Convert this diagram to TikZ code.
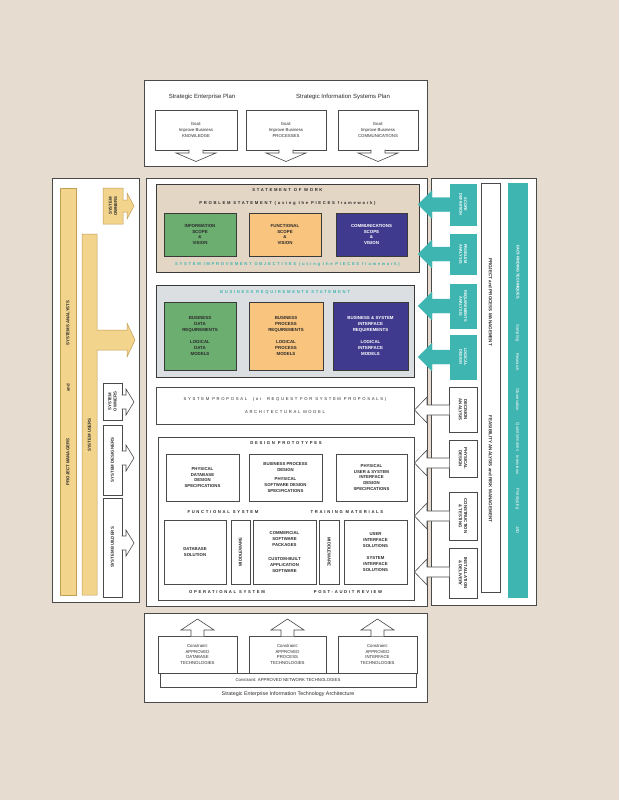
\documentclass[tikz,border=0pt]{standalone}
\usepackage{fontspec}
\setmainfont{Liberation Sans}
\newfontfamily\spcfont[LetterSpace=40]{Liberation Sans}
\definecolor{bgc}{HTML}{E7DCD0}
\definecolor{lc}{HTML}{4A4A4A}
\definecolor{dk}{HTML}{3A3A3A}
\definecolor{yel}{HTML}{F2D48C}
\definecolor{yelb}{HTML}{BF9E55}
\definecolor{grn}{HTML}{6CAD70}
\definecolor{org}{HTML}{F9C47E}
\definecolor{pur}{HTML}{3F3A8E}
\definecolor{teal}{HTML}{3FB5B2}
\definecolor{sowc}{HTML}{E4D6C4}
\definecolor{brsc}{HTML}{DCDFE1}
\definecolor{txt}{HTML}{2A2A2A}
\newcommand\harrow[8]{%
 \fill[#1] (#3,#6-#7) -- (#4,#6-#7) -- (#4,#6-#8) -- (#5,#6) -- (#4,#6+#8) -- (#4,#6+#7) -- (#3,#6+#7) -- cycle;
 \draw[#2] (#3,#6-#7) -- (#4,#6-#7) -- (#4,#6-#8) -- (#5,#6) -- (#4,#6+#8) -- (#4,#6+#7) -- (#3,#6+#7);}
\newcommand\varrow[8]{%
 \fill[#1] (#3-#7,#4) -- (#3-#7,#5) -- (#3-#8,#5) -- (#3,#6) -- (#3+#8,#5) -- (#3+#7,#5) -- (#3+#7,#4) -- cycle;
 \draw[#2] (#3-#7,#4) -- (#3-#7,#5) -- (#3-#8,#5) -- (#3,#6) -- (#3+#8,#5) -- (#3+#7,#5) -- (#3+#7,#4);}
\tikzset{
 frame/.style={draw=lc, line width=0.6pt, fill=white, inner sep=0},
 ttl/.style={font=\fontsize{6}{7}\selectfont, text=txt, inner sep=0},
 goal/.style={frame, align=center, font=\fontsize{4.3}{5.8}\selectfont, text=txt},
 cbox/.style={draw=dk, line width=0.6pt, inner sep=0, align=center, font=\bfseries\fontsize{4.4}{5.8}\selectfont, text=txt},
 dbox/.style={frame, align=center, font=\bfseries\fontsize{4.3}{5.9}\selectfont, text=txt},
 spc/.style={font=\spcfont\bfseries\fontsize{4.2}{5}\selectfont, text=txt, inner sep=0},
 vlab/.style={font=\bfseries\fontsize{4.3}{5.2}\selectfont, text=txt, align=center, inner sep=0},
 wlab/.style={font=\bfseries\fontsize{3.9}{4.8}\selectfont, text=white, align=center, inner sep=0},
 yfill/.style={fill=yel, draw=yelb, line width=0.5pt},
 tealbox/.style={fill=teal, draw=teal, inner sep=0}
}
\begin{document}
\begin{tikzpicture}[x=1pt,y=-1pt]
\fill[bgc] (0,0) rectangle (619,800);
\useasboundingbox (0,0) rectangle (619,800);

% ---------- top ----------
\node[frame, minimum width=283, minimum height=86] (topbox) at (285.5,123) {};
\node[ttl] (sep) at (202,97) {Strategic Enterprise Plan};
\node[ttl] (sisp) at (343,97) {Strategic Information Systems Plan};
\node[goal, minimum width=82, minimum height=40] (g1) at (196,130) {Goal:\\Improve Business\\KNOWLEDGE};
\node[goal, minimum width=80, minimum height=40] (g2) at (286,130) {Goal:\\Improve Business\\PROCESSES};
\node[goal, minimum width=80, minimum height=40] (g3) at (378,130) {Goal:\\Improve Business\\COMMUNICATIONS};
\varrow{white}{lc, line width=0.6pt}{196}{149.6}{153}{161.5}{7}{20}
\varrow{white}{lc, line width=0.6pt}{286}{149.6}{153}{161.5}{7}{20}
\varrow{white}{lc, line width=0.6pt}{378}{149.6}{153}{161.5}{7}{20}

% ---------- left column ----------
\node[frame, minimum width=87, minimum height=424] (leftbox) at (95.5,390) {};
\node[yfill, minimum width=16, minimum height=407, inner sep=0] (bar1) at (68,391.5) {};
\node[vlab, rotate=90] (sa) at (68,323) {SYSTEMS ANALYSTS};
\node[vlab, rotate=90] (and1) at (68,388) {and};
\node[vlab, rotate=90] (pm) at (68,462) {PROJECT MANAGERS};
\filldraw[yfill] (82,234) -- (97,234) -- (97,330) -- (127,330) -- (127,323) -- (135,340) -- (127,357) -- (127,350) -- (97,350) -- (97,595) -- (82,595) -- cycle;
\node[vlab, rotate=90] (su) at (89.5,435) {SYSTEM USERS};
\filldraw[yfill] (103,188) -- (123,188) -- (123,200) -- (127,200) -- (127,193) -- (134,206) -- (127,219) -- (127,212) -- (123,212) -- (123,224) -- (103,224) -- cycle;
\node[vlab, rotate=90] (so1) at (113,206) {SYSTEM\\OWNERS};

\node[frame, minimum width=19, minimum height=37] (so2) at (112.5,401.5) {};
\node[vlab, rotate=90] (so2t) at (112.5,401.5) {SYSTEM\\OWNERS};
\harrow{white}{lc, line width=0.6pt}{121.6}{126}{134}{402}{7}{13}
\node[frame, minimum width=19, minimum height=70] (sd) at (112.5,460) {};
\node[vlab, rotate=90] (sdt) at (112.5,460) {SYSTEM DESIGNERS};
\harrow{white}{lc, line width=0.6pt}{121.6}{126}{134}{458}{7}{13}
\node[frame, minimum width=19, minimum height=99] (sb) at (112.5,547.5) {};
\node[vlab, rotate=90] (sbt) at (112.5,547.5) {SYSTEM BUILDERS};
\harrow{white}{lc, line width=0.6pt}{121.6}{126}{134}{543}{7}{13}

% ---------- right column frame ----------
\node[frame, minimum width=105, minimum height=427] (rightbox) at (483.5,391.5) {};

% ---------- center ----------
\node[frame, minimum width=281, minimum height=428] (main) at (286.5,392) {};

\node[cbox, fill=sowc, minimum width=263, minimum height=88] (sow) at (287.5,228) {};
\node[spc] (sowt) at (287.5,190) {STATEMENT OF WORK};
\node[spc] (pst) at (287.5,203) {PROBLEM STATEMENT (using the PIECES framework)};
\node[cbox, fill=grn, minimum width=72, minimum height=43] (info) at (200,234.5) {INFORMATION\\SCOPE\\\&\\VISION};
\node[cbox, fill=org, minimum width=72, minimum height=43] (func) at (285,234.5) {FUNCTIONAL\\SCOPE\\\&\\VISION};
\node[cbox, fill=pur, text=white, minimum width=71, minimum height=43] (comm) at (371.5,234.5) {COMMUNICATIONS\\SCOPE\\\&\\VISION};
\node[spc, text=teal] (sio) at (287.5,264) {SYSTEM IMPROVEMENT OBJECTIVES (using the PIECES framework)};

\node[cbox, fill=brsc, minimum width=258, minimum height=92] (brs) at (285,331) {};
\node[spc, text=teal] (brst) at (285,292) {BUSINESS REQUIREMENTS STATEMENT};
\node[cbox, fill=grn, minimum width=72, minimum height=68] (bdr) at (200,336) {BUSINESS\\DATA\\REQUIREMENTS\\[7pt]LOGICAL\\DATA\\MODELS};
\node[cbox, fill=org, minimum width=74, minimum height=68] (bpr) at (286,336) {BUSINESS\\PROCESS\\REQUIREMENTS\\[7pt]LOGICAL\\PROCESS\\MODELS};
\node[cbox, fill=pur, text=white, minimum width=75, minimum height=68] (bir) at (370.5,336) {BUSINESS \& SYSTEM\\INTERFACE\\REQUIREMENTS\\[7pt]LOGICAL\\INTERFACE\\MODELS};

\node[frame, minimum width=258, minimum height=37] (prop) at (285,405.5) {};
\node[spc, font=\spcfont\fontsize{4.2}{5}\selectfont] (propt) at (285,399) {SYSTEM PROPOSAL \ (or \ REQUEST FOR SYSTEM PROPOSALS)};
\node[spc, font=\spcfont\fontsize{4.2}{5}\selectfont] (arch) at (285,412) {ARCHITECTURAL MODEL};

\node[frame, minimum width=256, minimum height=163] (dp) at (286,518.5) {};
\node[spc] (dpt) at (286,443) {DESIGN PROTOTYPES};
\node[dbox, minimum width=73, minimum height=47] (pdb) at (202.5,477.5) {PHYSICAL\\DATABASE\\DESIGN\\SPECIFICATIONS};
\node[dbox, minimum width=73, minimum height=47] (bpd) at (285.5,477.5) {BUSINESS PROCESS\\DESIGN\\[4pt]PHYSICAL\\SOFTWARE DESIGN\\SPECIFICATIONS};
\node[dbox, minimum width=71, minimum height=47] (pui) at (371.5,477.5) {PHYSICAL\\USER \& SYSTEM\\INTERFACE\\DESIGN\\SPECIFICATIONS};
\node[spc] (fs) at (223,512) {FUNCTIONAL SYSTEM};
\node[spc] (tm) at (347,512) {TRAINING MATERIALS};
\node[dbox, minimum width=62, minimum height=64] (dbs) at (195,552) {DATABASE\\SOLUTION};
\node[dbox, minimum width=19, minimum height=64] (mw1) at (240.5,552) {};
\node[vlab, rotate=90] (mw1t) at (240.5,552) {MIDDLEWARE};
\node[dbox, minimum width=63, minimum height=64] (csp) at (284.5,552) {COMMERCIAL\\SOFTWARE\\PACKAGES\\[9pt]CUSTOM-BUILT\\APPLICATION\\SOFTWARE};
\node[dbox, minimum width=20, minimum height=64] (mw2) at (329,552) {};
\node[vlab, rotate=-90] (mw2t) at (329,552) {MIDDLEWARE};
\node[dbox, minimum width=63, minimum height=64] (uis) at (375.5,552) {USER\\INTERFACE\\SOLUTIONS\\[6pt]SYSTEM\\INTERFACE\\SOLUTIONS};
\node[spc] (os) at (227,592) {OPERATIONAL SYSTEM};
\node[spc] (par) at (348,592) {POST-AUDIT REVIEW};

% ---------- right column content ----------
\node[tealbox, minimum width=26, minimum height=41] (scd) at (463,204.5) {};
\node[wlab, rotate=-90] (scdt) at (463,204.5) {SCOPE\\DEFINITION};
\node[tealbox, minimum width=26, minimum height=40] (pra) at (463,254) {};
\node[wlab, rotate=-90] (prat) at (463,254) {PROBLEM\\ANALYSIS};
\node[tealbox, minimum width=26, minimum height=44] (rqa) at (463,306) {};
\node[wlab, rotate=-90] (rqat) at (463,306) {REQUIREMENTS\\ANALYSIS};
\node[tealbox, minimum width=26, minimum height=44] (lgd) at (463,357) {};
\node[wlab, rotate=-90] (lgdt) at (463,357) {LOGICAL\\DESIGN};
\harrow{teal}{teal, line width=0.3pt}{450.5}{432}{418}{204.5}{7}{14}
\harrow{teal}{teal, line width=0.3pt}{450.5}{432}{418}{254}{7}{14}
\harrow{teal}{teal, line width=0.3pt}{450.5}{432}{418}{306}{7}{14}
\harrow{teal}{teal, line width=0.3pt}{450.5}{432}{418}{357}{7}{14}

\node[frame, minimum width=28, minimum height=45] (dan) at (463,409.5) {};
\node[vlab, rotate=-90] (dant) at (463,409.5) {DECISION\\ANALYSIS};
\node[frame, minimum width=28, minimum height=37] (pds) at (463,458.5) {};
\node[vlab, rotate=-90] (pdst) at (463,458.5) {PHYSICAL\\DESIGN};
\node[frame, minimum width=28, minimum height=48] (cnt) at (463,516) {};
\node[vlab, rotate=-90] (cntt) at (463,516) {CONSTRUCTION\\\& TESTING};
\node[frame, minimum width=28, minimum height=50] (ind) at (463,573) {};
\node[vlab, rotate=-90] (indt) at (463,573) {INSTALLATION\\\& DELIVERY};
\harrow{white}{lc, line width=0.6pt}{449.4}{427}{414.5}{410}{5}{13}
\harrow{white}{lc, line width=0.6pt}{449.4}{427}{414.5}{463}{5}{13}
\harrow{white}{lc, line width=0.6pt}{449.4}{427}{414.5}{516}{5}{13}
\harrow{white}{lc, line width=0.6pt}{449.4}{427}{414.5}{572}{5}{13}

\node[frame, minimum width=19, minimum height=409] (pbar) at (490.5,387.5) {};
\node[vlab, rotate=-90, font=\bfseries\fontsize{4.5}{5}\selectfont] (ppm) at (490.5,302) {PROJECT and PROCESS MANAGEMENT};
\node[vlab, rotate=-90, font=\bfseries\fontsize{4.5}{5}\selectfont] (far) at (490.5,469) {FEASIBILITY ANALYSIS and RISK MANAGEMENT};
\node[tealbox, minimum width=19, minimum height=414] (tbar) at (517.5,390) {};
\node[wlab, rotate=-90] (fft) at (517.5,272) {FACT-FINDING TECHNIQUES};
\node[wlab, rotate=-90, font=\fontsize{4.2}{5}\selectfont] (t1) at (517.5,333) {Sampling};
\node[wlab, rotate=-90, font=\fontsize{4.2}{5}\selectfont] (t2) at (517.5,362) {Research};
\node[wlab, rotate=-90, font=\fontsize{4.2}{5}\selectfont] (t3) at (517.5,400) {Observation};
\node[wlab, rotate=-90, font=\fontsize{4.2}{5}\selectfont] (t4) at (517.5,437) {Questionnaires};
\node[wlab, rotate=-90, font=\fontsize{4.2}{5}\selectfont] (t5) at (517.5,465) {Interviews};
\node[wlab, rotate=-90, font=\fontsize{4.2}{5}\selectfont] (t6) at (517.5,499) {Prototyping};
\node[wlab, rotate=-90, font=\fontsize{4.2}{5}\selectfont] (t7) at (517.5,530) {JAD};

% ---------- bottom ----------
\node[frame, minimum width=283, minimum height=89] (botbox) at (285.5,657.5) {};
\node[goal, minimum width=79, minimum height=37] (c1) at (197.5,654.5) {Constraint:\\APPROVED\\DATABASE\\TECHNOLOGIES};
\node[goal, minimum width=77, minimum height=37] (c2) at (287.5,654.5) {Constraint:\\APPROVED\\PROCESS\\TECHNOLOGIES};
\node[goal, minimum width=79, minimum height=37] (c3) at (377.5,654.5) {Constraint:\\APPROVED\\INTERFACE\\TECHNOLOGIES};
\varrow{white}{lc, line width=0.6pt}{197.5}{636.4}{630}{619}{6.5}{16.5}
\varrow{white}{lc, line width=0.6pt}{287.5}{636.4}{630}{619}{6.5}{16.5}
\varrow{white}{lc, line width=0.6pt}{377.5}{636.4}{630}{619}{6.5}{16.5}
\node[goal, minimum width=256, minimum height=14] (net) at (288,680) {Constraint: APPROVED NETWORK TECHNOLOGIES};
\node[ttl, font=\fontsize{5.3}{6}\selectfont] (seita) at (288,694.5) {Strategic Enterprise Information Technology Architecture};
\end{tikzpicture}
\end{document}
